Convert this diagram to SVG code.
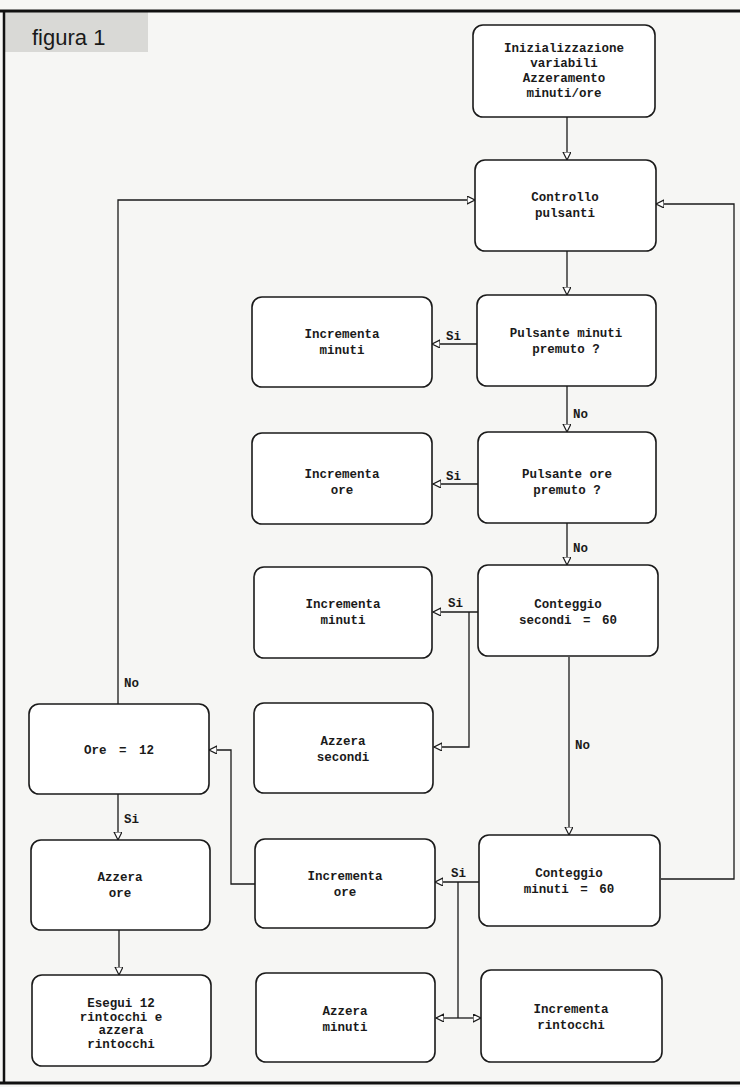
<svg xmlns="http://www.w3.org/2000/svg" width="740" height="1087" viewBox="0 0 740 1087">
<style>
.box{fill:#ffffff;stroke:#1a1a1a;stroke-width:1.6}
.t{font-family:"Liberation Mono","DejaVu Sans Mono",monospace;font-size:12.5px;fill:#1a1a1a;text-anchor:middle;font-weight:bold}
.lbl{font-family:"Liberation Mono","DejaVu Sans Mono",monospace;font-size:12.5px;fill:#1a1a1a;font-weight:bold}
.c{fill:none;stroke:#1a1a1a;stroke-width:1.3}
.a{marker-end:url(#arr)}
.frame{stroke:#111;fill:none}
</style>
<defs>
<marker id="arr" markerUnits="userSpaceOnUse" markerWidth="10" markerHeight="10" refX="8" refY="4" orient="auto">
<path d="M0,0 L8,4 L0,8 Z" fill="#ffffff" stroke="#1a1a1a" stroke-width="1.2"/>
</marker>
<marker id="arrs" markerUnits="userSpaceOnUse" markerWidth="10" markerHeight="10" refX="8" refY="4" orient="auto-start-reverse">
<path d="M0,0 L8,4 L0,8 Z" fill="#ffffff" stroke="#1a1a1a" stroke-width="1.2"/>
</marker>
</defs>
<rect x="0" y="0" width="740" height="1087" fill="#f6f6f4"/>
<rect x="4" y="12" width="144" height="40" fill="#d9d9d6"/>
<text x="32" y="45" font-family="Liberation Sans, Arial, sans-serif" font-size="22" fill="#1a1a1a">figura 1</text>
<g id="frame">
<line class="frame" x1="0" y1="11" x2="740" y2="11" stroke-width="3"/>
<line class="frame" x1="4" y1="11" x2="4" y2="1083" stroke-width="2.5"/>
<line class="frame" x1="0" y1="1083" x2="740" y2="1083" stroke-width="3"/>
</g>

<g id="connectors">
<path class="c a" d="M567,117 V160"/>
<path class="c a" d="M567,251 V295"/>
<path class="c a" d="M477,344 H432"/>
<path class="c a" d="M567,386 V432"/>
<path class="c a" d="M478,484 H433"/>
<path class="c a" d="M567,523 V565"/>
<path class="c a" d="M478,612 H433"/>
<path class="c a" d="M469,612 V747 H434"/>
<path class="c a" d="M569,657 V835"/>
<path class="c a" d="M479,882 H435"/>
<path class="c" d="M458,882 V1018"/>
<path class="c" d="M458,1018 H436" marker-end="url(#arr)"/>
<path class="c" d="M458,1018 H481" marker-end="url(#arr)"/>
<path class="c a" d="M661,879 H734 V204 H656"/>
<path class="c a" d="M118,704 V200 H475"/>
<path class="c a" d="M118,794 V840"/>
<path class="c a" d="M255,884 H231 V750 H209"/>
<path class="c a" d="M119,930 V975"/>
<text class="lbl" x="446" y="340">Si</text>
<text class="lbl" x="573" y="418">No</text>
<text class="lbl" x="446" y="480">Si</text>
<text class="lbl" x="573" y="552">No</text>
<text class="lbl" x="448" y="607">Si</text>
<text class="lbl" x="575" y="749">No</text>
<text class="lbl" x="451" y="877">Si</text>
<text class="lbl" x="124" y="687">No</text>
<text class="lbl" x="124" y="823">Si</text>
</g>

<g id="n-init">
<rect class="box" x="473" y="25" width="182" height="92" rx="10"/>
<text class="t" x="564" y="52">Inizializzazione</text>
<text class="t" x="564" y="67">variabili</text>
<text class="t" x="564" y="82">Azzeramento</text>
<text class="t" x="564" y="97">minuti/ore</text>
</g>
<g id="n-controllo">
<rect class="box" x="475" y="160" width="181" height="91" rx="10"/>
<text class="t" x="565" y="201">Controllo</text>
<text class="t" x="565" y="217">pulsanti</text>
</g>
<g id="n-pmin">
<rect class="box" x="477" y="295" width="179" height="91" rx="10"/>
<text class="t" x="566" y="337">Pulsante minuti</text>
<text class="t" x="566" y="353">premuto ?</text>
</g>
<g id="n-incmin1">
<rect class="box" x="252" y="297" width="180" height="90" rx="10"/>
<text class="t" x="342" y="338">Incrementa</text>
<text class="t" x="342" y="354">minuti</text>
</g>
<g id="n-pore">
<rect class="box" x="478" y="432" width="178" height="91" rx="10"/>
<text class="t" x="567" y="478">Pulsante ore</text>
<text class="t" x="567" y="494">premuto ?</text>
</g>
<g id="n-incore1">
<rect class="box" x="252" y="433" width="180" height="91" rx="10"/>
<text class="t" x="342" y="478">Incrementa</text>
<text class="t" x="342" y="494">ore</text>
</g>
<g id="n-csec">
<rect class="box" x="478" y="565" width="180" height="91" rx="10"/>
<text class="t" x="568" y="608">Conteggio</text>
<text class="t" x="568" y="624" word-spacing="4">secondi = 60</text>
</g>
<g id="n-incmin2">
<rect class="box" x="254" y="567" width="178" height="91" rx="10"/>
<text class="t" x="343" y="608">Incrementa</text>
<text class="t" x="343" y="624">minuti</text>
</g>
<g id="n-azsec">
<rect class="box" x="254" y="703" width="179" height="90" rx="10"/>
<text class="t" x="343" y="745">Azzera</text>
<text class="t" x="343" y="761">secondi</text>
</g>
<g id="n-ore12">
<rect class="box" x="29" y="704" width="180" height="90" rx="10"/>
<text class="t" x="119" y="754" word-spacing="5">Ore = 12</text>
</g>
<g id="n-cmin">
<rect class="box" x="479" y="835" width="181" height="91" rx="10"/>
<text class="t" x="569" y="877">Conteggio</text>
<text class="t" x="569" y="893" word-spacing="4">minuti = 60</text>
</g>
<g id="n-incore2">
<rect class="box" x="255" y="839" width="180" height="89" rx="10"/>
<text class="t" x="345" y="880">Incrementa</text>
<text class="t" x="345" y="896">ore</text>
</g>
<g id="n-azore">
<rect class="box" x="31" y="840" width="179" height="90" rx="10"/>
<text class="t" x="120" y="881">Azzera</text>
<text class="t" x="120" y="897">ore</text>
</g>
<g id="n-incrint">
<rect class="box" x="481" y="970" width="181" height="92" rx="10"/>
<text class="t" x="571" y="1013">Incrementa</text>
<text class="t" x="571" y="1029">rintocchi</text>
</g>
<g id="n-azmin">
<rect class="box" x="256" y="973" width="179" height="89" rx="10"/>
<text class="t" x="345" y="1015">Azzera</text>
<text class="t" x="345" y="1031">minuti</text>
</g>
<g id="n-esegui">
<rect class="box" x="32" y="975" width="179" height="91" rx="10"/>
<text class="t" x="121" y="1007">Esegui 12</text>
<text class="t" x="121" y="1021">rintocchi e</text>
<text class="t" x="121" y="1034">azzera</text>
<text class="t" x="121" y="1048">rintocchi</text>
</g>
</svg>
